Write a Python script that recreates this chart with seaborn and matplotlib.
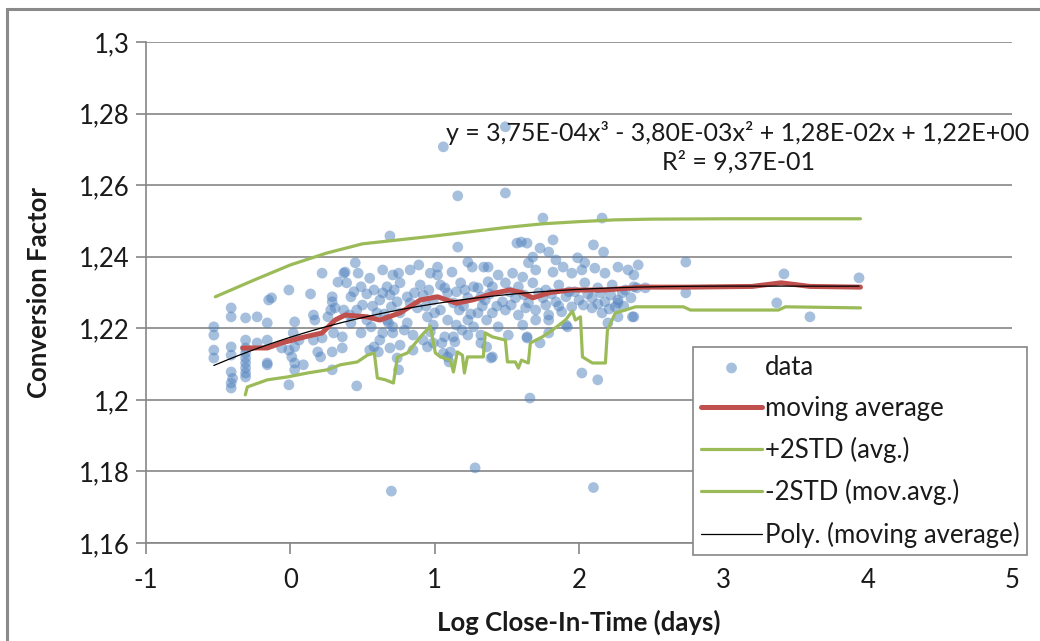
import numpy as np
import pandas as pd
import matplotlib
matplotlib.use("Agg")
import matplotlib.pyplot as plt
from matplotlib.patches import Rectangle
from matplotlib.ticker import FuncFormatter
import seaborn as sns

# ---------------- data ----------------
data_pts = [
    (-0.53, 1.2204), (-0.53, 1.2181), (-0.53, 1.2139), (-0.53, 1.2117),
    (-0.41, 1.2257), (-0.41, 1.2232), (-0.41, 1.2148), (-0.41, 1.2125), (-0.41, 1.2078),
    (-0.41, 1.2047), (-0.41, 1.2033), (-0.40, 1.2060),
    (-0.31, 1.2229), (-0.31, 1.2167), (-0.31, 1.2145), (-0.31, 1.2131), (-0.31, 1.2117),
    (-0.31, 1.2103), (-0.31, 1.2089), (-0.31, 1.2075), (-0.31, 1.2064),
    (-0.23, 1.2232), (-0.23, 1.2159),
    (-0.16, 1.2215), (-0.16, 1.2167), (-0.16, 1.2103), (-0.16, 1.2098),
    (-0.15, 1.2279), (-0.13, 1.2285),
    (-0.01, 1.2307), (0.03, 1.2218), (-0.01, 1.2042),
    (-0.06, 1.2145), (-0.01, 1.2139), (0.03, 1.2148), (0.01, 1.2120), (0.03, 1.2103),
    (0.09, 1.2098), (0.03, 1.2084), (0.06, 1.2167), (0.02, 1.2187),
    (0.14, 1.2296), (0.16, 1.2237), (0.17, 1.2223), (0.16, 1.2167), (0.22, 1.2173),
    (0.19, 1.2134), (0.21, 1.2120),
    (0.22, 1.2354), (0.29, 1.2288), (0.29, 1.2274), (0.28, 1.2251), (0.31, 1.2257),
    (0.26, 1.2232), (0.30, 1.2187), (0.36, 1.2176), (0.29, 1.2134), (0.29, 1.2084),
    (0.33, 1.2329), (0.37, 1.2354), (0.36, 1.2145),
    (0.45, 1.2383), (0.38, 1.2357), (0.47, 1.2354), (0.55, 1.2340), (0.64, 1.2363),
    (0.71, 1.2349), (0.75, 1.2354), (0.83, 1.2363), (0.89, 1.2377), (1.02, 1.2371),
    (1.02, 1.2349), (1.12, 1.2357), (1.23, 1.2385), (1.26, 1.2371), (1.34, 1.2371),
    (0.97, 1.2354),
    (0.39, 1.2327), (0.49, 1.2316), (0.58, 1.2307), (0.67, 1.2316), (0.69, 1.2293),
    (0.76, 1.2327), (0.81, 1.2288), (0.90, 1.2321), (0.92, 1.2293), (1.04, 1.2321),
    (1.09, 1.2299), (1.18, 1.2327), (1.27, 1.2316), (1.37, 1.2330), (0.42, 1.2288),
    (0.62, 1.2279), (0.74, 1.2274), (0.99, 1.2279), (1.23, 1.2285), (1.32, 1.2288),
    (0.37, 1.2251), (0.46, 1.2251), (0.53, 1.2223), (0.60, 1.2243), (0.67, 1.2223),
    (0.76, 1.2243), (0.81, 1.2215), (0.88, 1.2257), (0.95, 1.2232), (1.04, 1.2251),
    (1.09, 1.2223), (1.17, 1.2251), (1.23, 1.2223), (1.30, 1.2243), (1.36, 1.2223),
    (0.42, 1.2215), (0.71, 1.2204), (0.99, 1.2209), (1.27, 1.2204),
    (0.49, 1.2187), (0.58, 1.2148), (0.61, 1.2134), (0.69, 1.2145), (0.76, 1.2153),
    (0.75, 1.2084), (0.85, 1.2181), (0.92, 1.2167), (1.13, 1.2176), (1.14, 1.2162),
    (1.09, 1.2120), (1.11, 1.2134), (1.23, 1.2181), (1.32, 1.2181), (1.36, 1.2148),
    (0.64, 1.2187), (0.99, 1.2159),
    (0.68, 1.2215), (0.71, 1.2187), (0.74, 1.2117), (0.85, 1.2139), (0.95, 1.2148),
    (0.55, 1.2139), (0.62, 1.2167), (0.46, 1.2039),
    (0.69, 1.2458), (0.70, 1.1745), (1.28, 1.1810), (2.10, 1.1755), (1.06, 1.2707),
    (1.49, 1.2763), (1.16, 1.2570), (1.49, 1.2578), (1.75, 1.2508), (2.16, 1.2508),
    (1.16, 1.2427),
    (1.57, 1.2438), (1.60, 1.2441), (1.64, 1.2438), (1.73, 1.2424), (1.82, 1.2447),
    (1.79, 1.2413), (2.10, 1.2433), (2.17, 1.2413), (1.84, 1.2391), (1.65, 1.2383),
    (1.68, 1.2399), (1.99, 1.2397), (2.04, 1.2383),
    (1.37, 1.2371), (1.44, 1.2349), (1.54, 1.2354), (1.61, 1.2343), (1.70, 1.2363),
    (1.82, 1.2357), (1.89, 1.2371), (1.95, 1.2354), (2.02, 1.2363), (2.11, 1.2368),
    (2.18, 1.2354), (2.27, 1.2371), (2.34, 1.2363),
    (1.40, 1.2316), (1.49, 1.2327), (1.58, 1.2316), (1.68, 1.2327), (1.77, 1.2307),
    (1.86, 1.2321), (1.93, 1.2302), (2.04, 1.2327), (2.13, 1.2313), (2.23, 1.2321),
    (2.32, 1.2307), (2.38, 1.2316),
    (1.35, 1.2279), (1.47, 1.2274), (1.56, 1.2285), (1.65, 1.2271), (1.75, 1.2285),
    (1.84, 1.2274), (1.91, 1.2288), (2.00, 1.2279), (2.09, 1.2285), (2.18, 1.2274),
    (2.27, 1.2279),
    (1.40, 1.2243), (1.49, 1.2251), (1.58, 1.2237), (1.70, 1.2251), (1.79, 1.2237),
    (1.88, 1.2246), (1.95, 1.2260), (2.09, 1.2257), (2.16, 1.2243), (2.25, 1.2260),
    (2.37, 1.2232),
    (1.44, 1.2204), (1.51, 1.2181), (1.61, 1.2209), (1.70, 1.2223), (1.79, 1.2223),
    (1.91, 1.2209),
    (1.40, 1.2120), (1.64, 1.2173), (1.73, 1.2159), (1.79, 1.2187), (2.02, 1.2075),
    (2.13, 1.2056), (1.66, 1.2005), (2.20, 1.2215), (2.27, 1.2232),
    (1.39, 1.2117), (1.07, 1.2176), (1.05, 1.2159), (1.06, 1.2130), (1.10, 1.2106),
    (1.32, 1.2159), (1.64, 1.2176), (1.92, 1.2204), (2.27, 1.2271), (2.41, 1.2377),
    (2.46, 1.2313), (2.38, 1.2232),
    (2.38, 1.2349), (2.40, 1.2313), (2.74, 1.2385), (2.74, 1.2299), (3.42, 1.2352),
    (3.37, 1.2271), (3.60, 1.2232), (3.94, 1.2341),
    (1.38, 1.2296), (1.52, 1.2302), (1.62, 1.2293), (1.72, 1.2299), (1.81, 1.2296),
    (1.97, 1.2302), (2.06, 1.2296), (2.15, 1.2299), (2.22, 1.2293), (2.30, 1.2299),
    (1.43, 1.2262), (1.53, 1.2265), (1.63, 1.2257), (1.77, 1.2265), (1.86, 1.2262),
    (2.03, 1.2265), (2.13, 1.2268), (2.21, 1.2254), (2.31, 1.2262), (2.36, 1.2285),
    (0.44, 1.2302), (0.53, 1.2296), (0.64, 1.2299), (0.72, 1.2307), (0.86, 1.2299),
    (0.96, 1.2307), (1.07, 1.2313), (1.15, 1.2302), (1.21, 1.2307), (1.30, 1.2313),
    (0.50, 1.2265), (0.57, 1.2262), (0.70, 1.2260), (0.83, 1.2271), (0.94, 1.2262),
    (1.00, 1.2243), (1.13, 1.2271), (1.20, 1.2262), (1.33, 1.2262), (0.41, 1.2237),
    (0.56, 1.2204), (0.65, 1.2240), (0.79, 1.2195), (0.97, 1.2190), (1.15, 1.2209),
    (1.25, 1.2240), (1.19, 1.2195),
]
data_x = [p[0] for p in data_pts]
data_y = [p[1] for p in data_pts]

mavg_x = [-0.33, -0.16, -0.06, 0.10, 0.22, 0.31, 0.38, 0.53, 0.62, 0.76, 0.90, 1.02, 1.15,
          1.27, 1.40, 1.52, 1.60, 1.68, 1.80, 1.94, 2.18, 2.43, 2.75, 3.20, 3.40, 3.60, 3.95]
mavg_y = [1.2145, 1.2145, 1.2159, 1.2176, 1.2187, 1.2223, 1.2237, 1.2232, 1.2223, 1.2243,
          1.2279, 1.2288, 1.2270, 1.2280, 1.2297, 1.2307, 1.2300, 1.2285, 1.2300, 1.2307,
          1.2307, 1.2315, 1.2315, 1.2317, 1.2327, 1.2317, 1.2315]

upper_x = [-0.52, -0.25, 0.0, 0.25, 0.5, 0.75, 1.0, 1.25, 1.5, 1.75, 2.0, 2.25, 2.5, 3.0, 3.5, 3.95]
upper_y = [1.2288, 1.2335, 1.2377, 1.2410, 1.2436, 1.2447, 1.2458, 1.2470, 1.2482, 1.2492,
           1.2498, 1.2503, 1.2505, 1.2506, 1.2506, 1.2506]

lower_x = [-0.312, -0.298, -0.159, -0.021, 0.118, 0.256, 0.347, 0.464, 0.534, 0.582, 0.603,
           0.658, 0.714, 0.742, 0.811, 0.901, 0.970, 1.005, 1.040, 1.109, 1.130, 1.157,
           1.192, 1.206, 1.227, 1.337, 1.351, 1.400, 1.490, 1.504, 1.559, 1.580, 1.601,
           1.649, 1.663, 1.746, 1.816, 1.906, 1.954, 1.975, 2.010, 2.024, 2.093, 2.183,
           2.197, 2.252, 2.322, 2.391, 2.723, 2.772, 3.382, 3.430, 3.950]
lower_y = [1.2014, 1.2036, 1.2056, 1.2064, 1.2075, 1.2084, 1.2098, 1.2106, 1.2125, 1.2131,
           1.2061, 1.2056, 1.2047, 1.2120, 1.2131, 1.2176, 1.2206, 1.2131, 1.2120, 1.2111,
           1.2078, 1.2134, 1.2125, 1.2075, 1.2120, 1.2120, 1.2187, 1.2176, 1.2167, 1.2106,
           1.2106, 1.2089, 1.2111, 1.2103, 1.2159, 1.2176, 1.2195, 1.2223, 1.2248, 1.2223,
           1.2232, 1.2120, 1.2103, 1.2103, 1.2195, 1.2243, 1.2251, 1.2260, 1.2260, 1.2251,
           1.2251, 1.2260, 1.2257]

y_ticks = [1.16, 1.18, 1.20, 1.22, 1.24, 1.26, 1.28, 1.30]
x_ticks = [-1, 0, 1, 2, 3, 4, 5]

equation = "y = 3,75E-04x³ - 3,80E-03x² + 1,28E-02x + 1,22E+00\nR² = 9,37E-01"

# ---------------- styling ----------------
sns.set_theme(style="white")
plt.rcParams["font.family"] = ["Lato", "DejaVu Sans"]
plt.rcParams["axes.unicode_minus"] = False

W, H = 1040, 641
fig = plt.figure(figsize=(W / 100, H / 100), dpi=100)
ax = fig.add_axes([146 / W, 1 - 543 / H, (1012 - 146) / W, (543 - 42) / H])

grey = "#868686"
blue = "#4F81BD"
red = "#C0504D"
green = "#9BBB59"
txt = "#1a1a1a"

sns.scatterplot(x=data_x, y=data_y, color=blue, alpha=0.5, s=60, edgecolor="none",
                ax=ax, label="data", zorder=3)
sns.lineplot(x=mavg_x, y=mavg_y, color=red, lw=3.6, sort=False, estimator=None,
             ax=ax, label="moving average", zorder=4)
sns.lineplot(x=upper_x, y=upper_y, color=green, lw=2.3, sort=False, estimator=None,
             ax=ax, label="+2STD (avg.)", zorder=4)
sns.lineplot(x=lower_x, y=lower_y, color=green, lw=2.3, sort=False, estimator=None,
             ax=ax, label="-2STD (mov.avg.)", zorder=4)

coef = np.polyfit(mavg_x, mavg_y, 3)
trend_x = np.linspace(min(data_x), max(data_x), 200)
trend_y = np.polyval(coef, trend_x)
sns.lineplot(x=trend_x, y=trend_y, color="black", lw=0.9, sort=False, estimator=None,
             ax=ax, label="Poly. (moving average)", zorder=5)

ax.set_xlim(-1, 5)
ax.set_ylim(1.16, 1.30)
ax.set_xticks(x_ticks)
ax.set_yticks(y_ticks)
ax.yaxis.set_major_formatter(FuncFormatter(
    lambda v, p: (f"{v:.2f}".rstrip("0").rstrip(".")).replace(".", ",")))
ax.xaxis.set_major_formatter(FuncFormatter(lambda v, p: f"{int(round(v))}"))
ax.yaxis.grid(True, color=grey, lw=1.2)
ax.xaxis.grid(False)
ax.set_axisbelow(True)
for s in ["top", "right"]:
    ax.spines[s].set_visible(False)
for s in ["left", "bottom"]:
    ax.spines[s].set_color(grey)
    ax.spines[s].set_linewidth(1.2)
ax.tick_params(axis="y", direction="out", length=7, width=1.2, color=grey, pad=5,
               labelsize=18.5, labelcolor=txt, left=True)
ax.tick_params(axis="x", direction="out", length=8, width=1.2, color=grey, pad=10,
               labelsize=18.5, labelcolor=txt, bottom=True)

ax.set_ylabel("Conversion Factor", fontsize=18.5, fontweight="bold", labelpad=20, color=txt)
ax.set_xlabel("Log Close-In-Time (days)", fontsize=18.5, fontweight="bold", labelpad=12,
              color=txt)

fig.text(738 / W, 1 - 147 / H, equation, ha="center", va="center", fontsize=18,
         linespacing=1.25, color=txt)

h, l = ax.get_legend_handles_labels()
leg = ax.legend(h, l, loc="upper left", bbox_to_anchor=(693 / W, 1 - 347 / H),
                bbox_transform=fig.transFigure, frameon=True, fancybox=False,
                edgecolor=grey, framealpha=1, fontsize=18.5, handlelength=2.4,
                handletextpad=0.1, borderpad=0.3, labelspacing=0.63,
                borderaxespad=0, labelcolor=txt)
leg.get_frame().set_linewidth(1.2)
leg.set_zorder(10)

fig.add_artist(Rectangle((7 / W, -0.1), 1.2, 1 - 9 / H + 0.1, transform=fig.transFigure,
                         fill=False, ec="#8a8a8a", lw=2.2))

fig.savefig("out.png", dpi=100)
